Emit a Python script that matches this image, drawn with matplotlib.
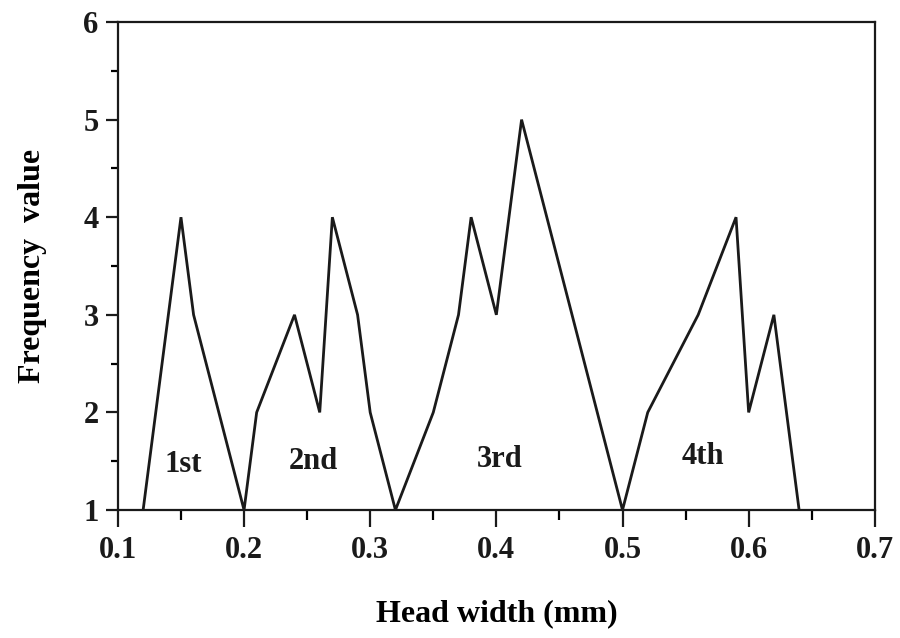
import matplotlib
matplotlib.use('Agg')
import matplotlib.pyplot as plt
from matplotlib import ticker

# head width (mm) vs frequency value
head_width = [0.12, 0.15, 0.16, 0.20, 0.21, 0.24, 0.26, 0.27, 0.29, 0.30,
              0.32, 0.35, 0.37, 0.38, 0.40, 0.42, 0.50, 0.52, 0.56, 0.59,
              0.60, 0.62, 0.64]
frequency = [1, 4, 3, 1, 2, 3, 2, 4, 3, 2,
             1, 2, 3, 4, 3, 5, 1, 2, 3, 4,
             2, 3, 1]

group_labels = ['1st', '2nd', '3rd', '4th']
group_x = [0.152, 0.255, 0.403, 0.564]
group_y = [1.47, 1.50, 1.52, 1.55]

plt.rcParams['font.family'] = ['Liberation Serif', 'DejaVu Serif']
plt.rcParams['font.weight'] = 'bold'

fig = plt.figure(figsize=(9, 6.38), dpi=100)
ax = fig.add_axes([0.131, 0.2006, 0.841, 0.7649])

ax.plot(head_width, frequency, color='#1a1a1a', linewidth=2.0, solid_joinstyle='miter')

for lab, gx, gy in zip(group_labels, group_x, group_y):
    ax.text(gx, gy, lab, ha='center', va='center', fontsize=22, fontweight='bold', color='#1a1a1a')

ax.set_xlim(0.1, 0.7)
ax.set_ylim(1, 6)
ax.xaxis.set_major_locator(ticker.MultipleLocator(0.1))
ax.xaxis.set_minor_locator(ticker.MultipleLocator(0.05))
ax.yaxis.set_major_locator(ticker.MultipleLocator(1))
ax.yaxis.set_minor_locator(ticker.MultipleLocator(0.5))
ax.xaxis.set_major_formatter(ticker.FuncFormatter(lambda v, pos: '{0:.1f}'.format(v)))

for s in ax.spines.values():
    s.set_linewidth(1.6)
    s.set_color('#1a1a1a')

ax.tick_params(axis='x', which='major', direction='out', length=12, width=1.6, pad=7,
               labelsize=22, colors='#1a1a1a')
ax.tick_params(axis='x', which='minor', direction='out', length=7, width=1.6)
ax.tick_params(axis='y', which='major', direction='out', length=9, width=1.6, pad=5,
               labelsize=22, colors='#1a1a1a')
ax.tick_params(axis='y', which='minor', direction='out', length=5, width=1.6)

ax.set_xlabel('Head width (mm)', fontsize=23, fontweight='bold', labelpad=24)
ax.set_ylabel('Frequency  value', fontsize=23, fontweight='bold', labelpad=26)

plt.savefig('out.png', dpi=100)
